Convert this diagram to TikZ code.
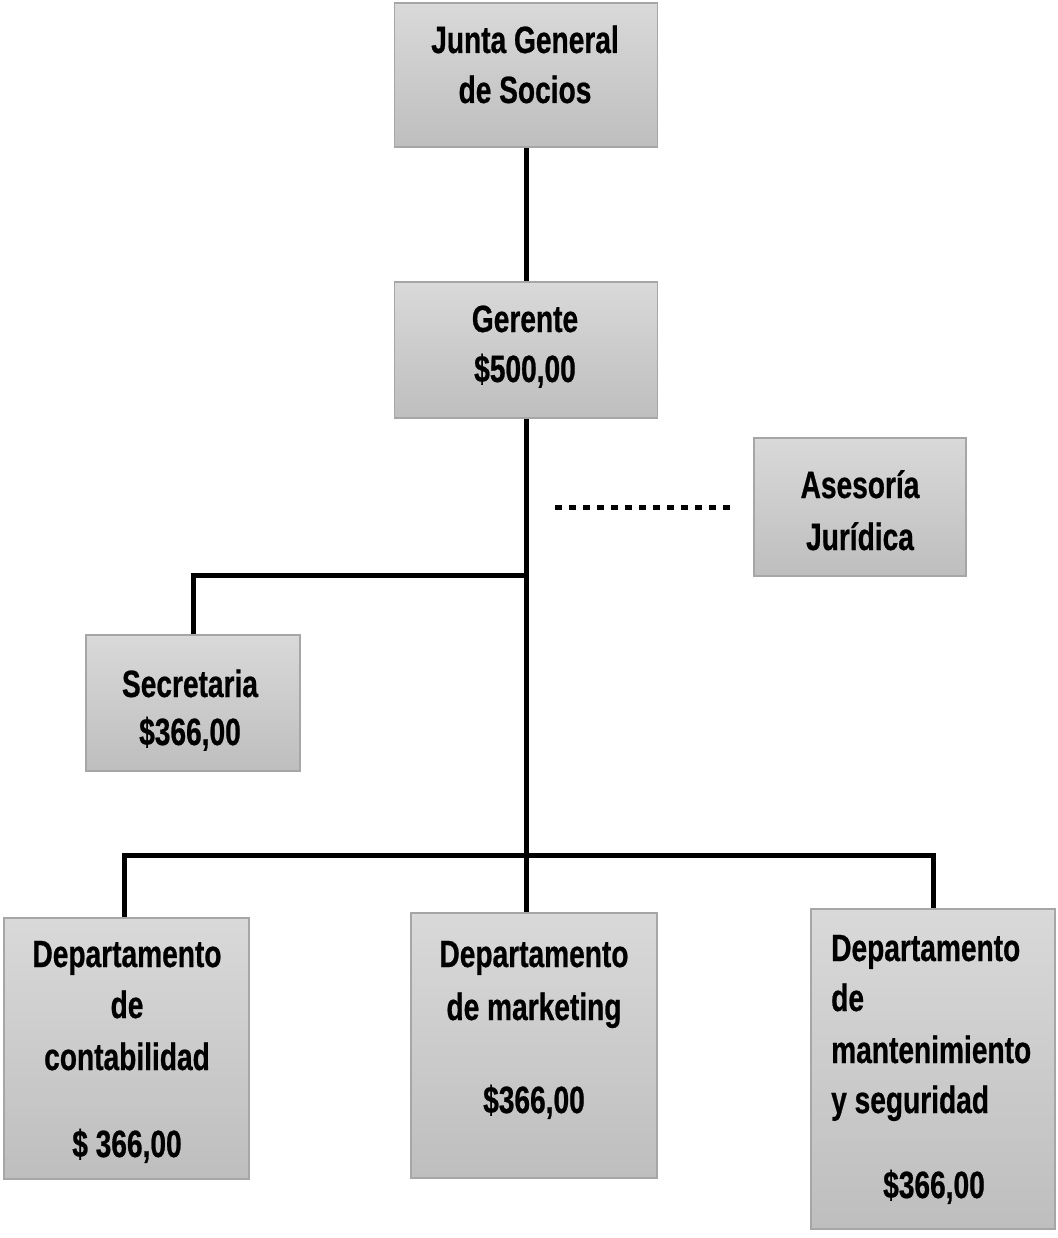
\documentclass[tikz,border=0pt]{standalone}
\usepackage{fontspec}
\setmainfont{Liberation Sans}[FakeStretch=0.74]
\newfontfamily\orgfont{Liberation Sans}[FakeStretch=0.74,BoldFeatures={FakeBold=0.6}]
\definecolor{boxtop}{HTML}{D9D9D9}
\definecolor{boxbot}{HTML}{BEBEBE}
\definecolor{boxline}{HTML}{A6A6A6}
\tikzset{
  orgbox/.style={draw=boxline, line width=1.5pt, top color=boxtop, bottom color=boxbot, rectangle, inner sep=0pt},
  txt/.style={anchor=base, inner sep=0pt, font=\orgfont\fontsize{38}{46}\selectfont\bfseries},
  txtl/.style={anchor=base west, inner sep=0pt, font=\orgfont\fontsize{38}{46}\selectfont\bfseries},
  link/.style={draw=black, line width=5pt},
  dotlink/.style={draw=black, line width=5pt, dash pattern=on 7pt off 7pt}
}
\begin{document}
\begin{tikzpicture}[x=1pt,y=-1pt]
\useasboundingbox (0,0) rectangle (1057,1238);
% boxes
\node[orgbox, minimum width=263pt, minimum height=144pt] (junta) at (526,75) {};
\node[orgbox, minimum width=263pt, minimum height=136pt] (gerente) at (526,350) {};
\node[orgbox, minimum width=212pt, minimum height=138pt] (asesoria) at (860,507) {};
\node[orgbox, minimum width=214pt, minimum height=136pt] (secretaria) at (193,703) {};
\node[orgbox, minimum width=245pt, minimum height=261pt] (conta) at (126.5,1048.5) {};
\node[orgbox, minimum width=246pt, minimum height=265pt] (mkt) at (534,1045.5) {};
\node[orgbox, minimum width=244pt, minimum height=320pt] (mant) at (933,1069) {};
% junctions
\coordinate (js) at (526,575);
\coordinate (jb) at (526,855);
\coordinate (d1) at (555,507);
\coordinate (d2) at (734,507);
% connectors
\draw[link] (junta.south) -- (gerente.north);
\draw[link] (gerente.south) -- (jb);
\draw[link] (js) -| (secretaria.north);
\draw[link] (jb) -| ([xshift=-2pt]conta.north);
\draw[link] (jb) -- (jb |- mkt.north);
\draw[link] (jb) -| (mant.north);
\draw[dotlink] (d1) -- (d2);
% texts
\node[txt] (t1) at (525,53) {Junta General};
\node[txt] (t2) at (525,103) {de Socios};
\node[txt] (t3) at (525,332) {Gerente};
\node[txt] (t4) at (525,382) {\$500,00};
\node[txt] (t5) at (860,498) {Asesoría};
\node[txt] (t6) at (860,550) {Jurídica};
\node[txt] (t7) at (190,697) {Secretaria};
\node[txt] (t8) at (190,745) {\$366,00};
\node[txt] (t9) at (127,967) {Departamento};
\node[txt] (t10) at (127,1018) {de};
\node[txt] (t11) at (127,1070) {contabilidad};
\node[txt] (t12) at (127,1157) {\$ 366,00};
\node[txt] (t13) at (534,967) {Departamento};
\node[txt] (t14) at (534,1020) {de marketing};
\node[txt] (t15) at (534,1113) {\$366,00};
\node[txtl] (t16) at (831,961) {Departamento};
\node[txtl] (t17) at (831,1011) {de};
\node[txtl] (t18) at (831,1063) {mantenimiento};
\node[txtl] (t19) at (831,1113) {y seguridad};
\node[txt] (t20) at (934,1198) {\$366,00};
\end{tikzpicture}
\end{document}
